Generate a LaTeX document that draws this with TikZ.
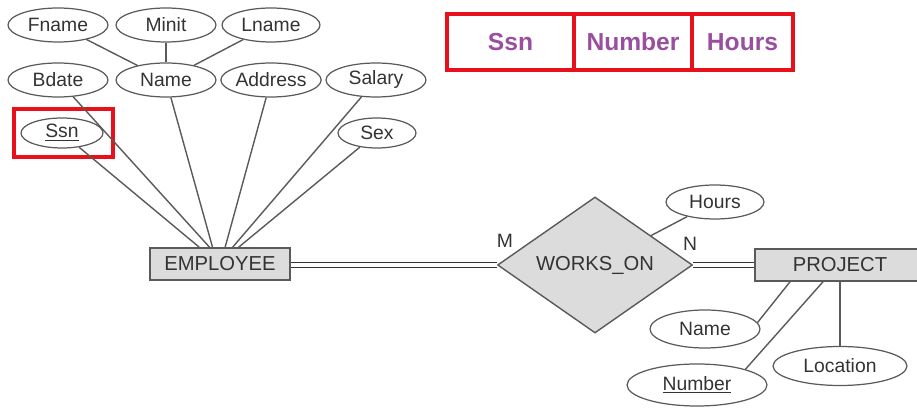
\documentclass[tikz,border=0pt]{standalone}
\usepackage{fontspec}
\setmainfont{Liberation Sans}
\usetikzlibrary{shapes.geometric}
\definecolor{linegray}{HTML}{5A5A5A}
\definecolor{boxgray}{HTML}{DCDCDC}
\definecolor{textgray}{HTML}{333333}
\definecolor{keyred}{HTML}{E8101A}
\definecolor{keypurple}{HTML}{9A4E9E}
\begin{document}
\begin{tikzpicture}[x=0.02cm, y=-0.02cm,
    attr/.style={ellipse, draw=linegray, line width=0.7pt, inner sep=0pt,
        minimum width=2cm, minimum height=0.68cm, text=textgray,
        font=\fontsize{11}{13}\selectfont},
    entity/.style={rectangle, draw=linegray, fill=boxgray, line width=0.9pt,
        inner sep=0pt, minimum height=0.64cm, text=textgray,
        font=\fontsize{11.5}{13}\selectfont},
    relation/.style={diamond, draw=linegray, fill=boxgray, line width=0.8pt,
        inner sep=0pt, minimum width=3.9cm, minimum height=2.4cm,
        text=textgray, font=\fontsize{11.5}{13}\selectfont},
    link/.style={draw=linegray, line width=0.8pt},
    total/.style={draw=textgray, line width=1pt, double, double distance=1.8pt},
    card/.style={text=textgray, font=\fontsize{11}{13}\selectfont},
    keycell/.style={draw=keyred, line width=2.8pt, minimum height=1.12cm,
        text=keypurple, font=\bfseries\fontsize{14}{16}\selectfont}]
    \useasboundingbox (0,0) rectangle (917,408);

    % EMPLOYEE attributes
    \node[attr] (fname) at (58,25) {Fname};
    \node[attr] (minit) at (166,25) {Minit};
    \node[attr, minimum width=1.96cm] (lname) at (271,25) {Lname};
    \node[attr] (bdate) at (58,80) {Bdate};
    \node[attr] (name) at (166,80) {Name};
    \node[attr] (address) at (271,80) {Address};
    \node[attr] (salary) at (376,80) {Salary};
    \node[attr, minimum width=1.64cm, minimum height=0.6cm] (ssn) at (62,133) {\underline{Ssn}};
    \node[attr, minimum width=1.56cm, minimum height=0.6cm] (sex) at (377,133) {Sex};
    \draw[keyred, line width=2.8pt] (14,109) rectangle (113,157);

    % entities and relationship
    \node[entity, minimum width=2.8cm] (emp) at (220,264) {EMPLOYEE};
    \node[relation] (wo) at (595,265) {WORKS\_ON};
    \node[entity, minimum width=3.4cm] (proj) at (840,265) {PROJECT};
    \node[card] (m) at (505,241) {M};
    \node[card] (n) at (690,244) {N};

    % WORKS_ON and PROJECT attributes
    \node[attr, minimum width=1.96cm] (hours) at (715,202) {Hours};
    \node[attr, minimum width=2.2cm, minimum height=0.76cm] (pname) at (705,329) {Name};
    \node[attr, minimum width=2.8cm, minimum height=0.84cm] (number) at (697,385) {\underline{Number}};
    \node[attr, minimum width=2.68cm, minimum height=0.78cm] (location) at (840,366) {Location};

    % key table
    \node[keycell, minimum width=2.54cm] (kssn) at (510.5,42) {Ssn};
    \node[keycell, minimum width=2.36cm] (knumber) at (633,42) {Number};
    \node[keycell, minimum width=2.02cm] (khours) at (742.5,42) {Hours};

    \draw[link] (fname) -- (name);
    \draw[link] (minit) -- (name);
    \draw[link] (lname) -- (name);
    \draw[link] (ssn) -- (emp.141);
    \draw[link] (bdate) -- (emp.122);
    \draw[link] (name) -- (emp.114);
    \draw[link] (address) -- (emp.73);
    \draw[link] (salary) -- (emp.53);
    \draw[link] (sex) -- (emp.42);

    \draw[total] (emp.east |- wo) -- (wo.west);
    \draw[total] (wo.east) -- (proj.west);
    \draw[link] (hours) -- (wo);

    \draw[link] (pname.7) -- ([xshift=-1cm]proj.south);
    \draw[link] (number.18) -- ([xshift=-0.34cm]proj.south);
    \draw[link] (location) -- (proj.south);
\end{tikzpicture}
\end{document}
